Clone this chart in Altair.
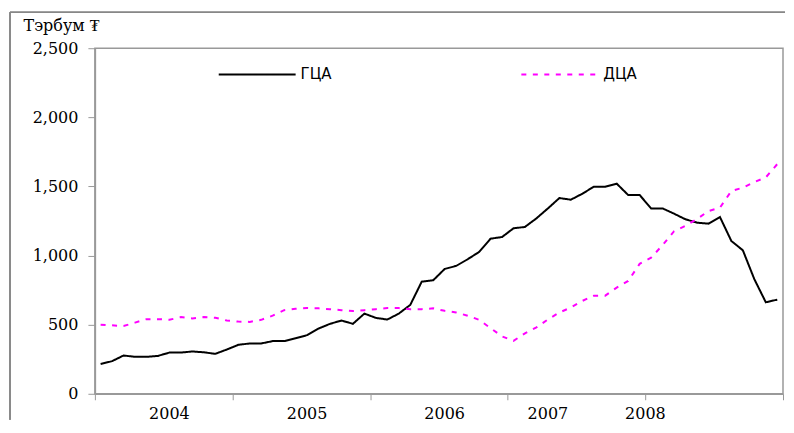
import altair as alt
import pandas as pd

series_names = ["ГЦА", "ДЦА"]
years = ["2004", "2005", "2006", "2007", "2008"]
year_label_pos = [6, 18, 30, 39, 47.5]
year_ticks = [-0.5, 11.5, 23.5, 35.5, 47.5, 59.5]
y_ticks = [0, 500, 1000, 1500, 2000, 2500]

gca = [215, 236, 277, 267, 267, 274, 298, 298, 306, 300, 289, 320,
       354, 364, 364, 381, 381, 402, 424, 472, 506, 530, 506, 580,
       549, 537, 580, 643, 811, 821, 903, 925, 973, 1026, 1122, 1134,
       1197, 1207, 1269, 1341, 1416, 1404, 1447, 1498, 1498, 1520, 1438, 1438,
       1341, 1341, 1303, 1262, 1238, 1231, 1279, 1105, 1038, 829, 662, 681]

dca = [500, 495, 490, 515, 540, 540, 535, 555, 545, 555, 550, 530,
       522, 520, 535, 565, 605, 615, 620, 618, 612, 605, 598, 605,
       612, 620, 620, 612, 612, 618, 600, 588, 565, 535, 475, 415,
       383, 437, 480, 538, 588, 624, 672, 709, 710, 768, 816, 940,
       985, 1075, 1176, 1215, 1264, 1322, 1346, 1467, 1491, 1532, 1565, 1662]

months = list(range(len(gca)))
df = pd.DataFrame({
    "m": months + months,
    "v": gca + dca,
    "s": [series_names[0]] * len(gca) + [series_names[1]] * len(dca),
})
year_df = pd.DataFrame({"year": years, "pos": year_label_pos})

W, H = 689, 346
GRAY = "#999999"
SERIF = "DejaVu Serif"

x_scale = alt.Scale(domain=[-0.5, 59.5], nice=False, zero=False)
y_scale = alt.Scale(domain=[0, 2500], nice=False)

lines = alt.Chart(df).mark_line(strokeWidth=2).encode(
    x=alt.X("m:Q", scale=x_scale,
            axis=alt.Axis(values=year_ticks, labels=False, title=None, grid=False,
                          tickSize=6, tickColor=GRAY, domainColor=GRAY, domainWidth=1.5)),
    y=alt.Y("v:Q", scale=y_scale,
            axis=alt.Axis(values=y_ticks, format=",.0f", grid=False,
                          title="Тэрбум ₮", titleAngle=0, titleAlign="left",
                          titleBaseline="alphabetic", titleX=-72, titleY=-18,
                          titleFont=SERIF, titleFontSize=16, titleFontWeight="normal",
                          titleColor="black",
                          labelFont=SERIF, labelFontSize=16, labelColor="black",
                          labelPadding=10, tickSize=7, tickColor=GRAY,
                          domainColor=GRAY, domainWidth=1.5)),
    color=alt.Color("s:N", scale=alt.Scale(domain=series_names, range=["#000000", "#FF00FF"]),
                    legend=alt.Legend(title=None)),
    strokeDash=alt.StrokeDash("s:N", scale=alt.Scale(domain=series_names, range=[[1, 0], [5, 6.5]]),
                              legend=alt.Legend(title=None)),
)

year_text = alt.Chart(year_df).mark_text(font=SERIF, fontSize=16, baseline="alphabetic",
                                         align="center", color="black").encode(
    x=alt.X("pos:Q", scale=x_scale),
    y=alt.value(H + 25),
    text="year:N",
)

frame_left = alt.Chart(year_df).mark_rule(color="#888888", strokeWidth=1).encode(
    x=alt.value(-85), y=alt.value(-36), y2=alt.value(H + 26))
frame_top = alt.Chart(year_df).mark_rule(color="#888888", strokeWidth=1).encode(
    x=alt.value(-85), x2=alt.value(W + 2), y=alt.value(-36))

chart = alt.layer(frame_left, frame_top, lines, year_text).properties(
    width=W, height=H,
    padding={"left": 1, "top": 3, "right": 0, "bottom": 0},
).configure_view(
    stroke=GRAY, strokeWidth=1.5
).configure_legend(
    orient="none", legendX=123, legendY=-13.5, direction="horizontal",
    symbolType="stroke", symbolSize=5929, symbolStrokeWidth=2,
    labelFont="DejaVu Sans", labelFontSize=15, labelColor="black",
    labelOffset=4, columnPadding=185, padding=0,
)

chart.save("out.html", embed_options={"renderer": "svg", "actions": False})
